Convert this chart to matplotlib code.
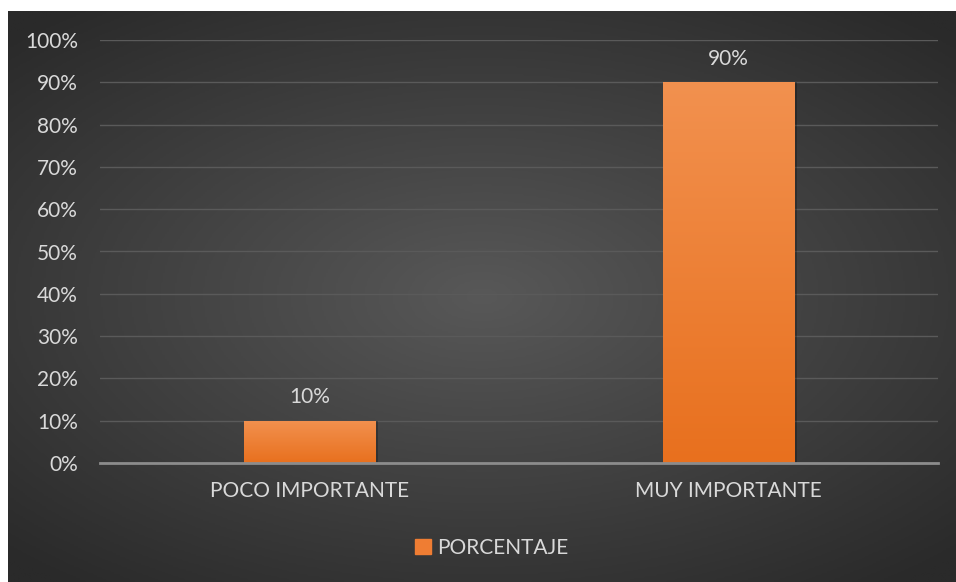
import numpy as np
import matplotlib.pyplot as plt
from matplotlib.colors import LinearSegmentedColormap
from matplotlib.patches import Rectangle

categories = ['POCO IMPORTANTE', 'MUY IMPORTANTE']
porcentaje = [10, 90]
series_name = 'PORCENTAJE'
yticks = [0, 10, 20, 30, 40, 50, 60, 70, 80, 90, 100]

plt.rcParams['font.family'] = ['Lato', 'DejaVu Sans']

fig = plt.figure(figsize=(9.56, 5.82), dpi=100)
fig.patch.set_facecolor('white')

# dark panel with radial shading
bg = fig.add_axes([8 / 956, 0, 948 / 956, 571 / 582])
bg.set_axis_off()
yy, xx = np.mgrid[-1:1:300j, -1:1:500j]
r = np.sqrt((xx * 0.95) ** 2 + (yy * 1.05) ** 2)
shade = np.clip(1 - r / 1.35, 0, 1)
bg_cmap = LinearSegmentedColormap.from_list('bg', ['#2a2a2a', '#585858'])
bg.imshow(shade, cmap=bg_cmap, aspect='auto', extent=[0, 1, 0, 1], vmin=0, vmax=1)
bg.set_xlim(0, 1)
bg.set_ylim(0, 1)

ax = fig.add_axes([100 / 956, (582 - 463) / 582, 838 / 956, 423 / 582])
ax.patch.set_alpha(0)
x = np.arange(len(categories))
bars = ax.bar(x, porcentaje, width=0.315, color='#ef7d33', zorder=3)

bar_cmap = LinearSegmentedColormap.from_list('bar', ['#e8701e', '#f2914f'])
grad = np.linspace(0, 1, 256).reshape(-1, 1)
for b in bars:
    bx, bw, bh = b.get_x(), b.get_width(), b.get_height()
    shadow = Rectangle((bx + 0.006, 0), bw, bh, color='black', alpha=0.25, zorder=2, lw=0)
    ax.add_patch(shadow)
    im = ax.imshow(grad, cmap=bar_cmap, aspect='auto', origin='lower',
                   extent=[bx, bx + bw, 0, bh], zorder=4)
    im.set_clip_path(b)
    ax.text(b.get_x() + bw / 2, bh + 3.2, f'{bh:.0f}%', ha='center', va='bottom',
            color='#d9d9d9', fontsize=15, zorder=5)

ax.set_xlim(-0.5, 1.5)
ax.set_ylim(0, 100)
ax.set_yticks(yticks)
ax.set_yticklabels([f'{v}%' for v in yticks])
ax.set_xticks(x)
ax.set_xticklabels(categories)
ax.tick_params(axis='both', length=0, colors='#d9d9d9', labelsize=15)
ax.tick_params(axis='y', pad=16)
ax.tick_params(axis='x', pad=13)
ax.grid(True, axis='y', color='#5a5a5a', linewidth=1, zorder=0)
for s in ['top', 'right', 'left']:
    ax.spines[s].set_visible(False)
ax.spines['bottom'].set_color('#8c8c8c')
ax.spines['bottom'].set_linewidth(2)
ax.spines['bottom'].set_zorder(6)

handle = Rectangle((0, 0), 1, 1, color='#ef7d33')
fig.legend([handle], [series_name], loc='center', bbox_to_anchor=(492 / 956, (582 - 548) / 582),
           frameon=False, fontsize=15, labelcolor='#d9d9d9', handlelength=0.75, handleheight=0.75,
           handletextpad=0.3)

fig.savefig('out.png', dpi=100, facecolor=fig.get_facecolor())
